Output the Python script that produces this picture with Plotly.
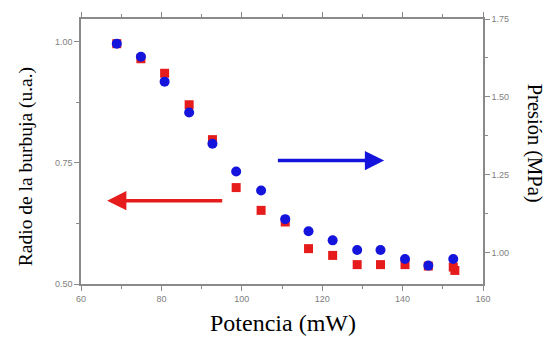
import plotly.graph_objects as go

# Data
potencia_red = [68.9, 74.9, 80.8, 86.9, 92.7, 98.6, 104.8, 110.8, 116.6, 122.6, 128.7, 134.5, 140.6, 146.4, 152.6, 153.0]
radio = [0.996, 0.965, 0.935, 0.870, 0.798, 0.699, 0.652, 0.628, 0.573, 0.559, 0.540, 0.540, 0.540, 0.537, 0.535, 0.528]
potencia_blue = [68.9, 74.9, 80.8, 86.9, 92.7, 98.6, 104.8, 110.8, 116.6, 122.6, 128.7, 134.5, 140.6, 146.4, 152.6]
presion = [1.671, 1.629, 1.549, 1.450, 1.350, 1.261, 1.200, 1.108, 1.069, 1.040, 1.009, 1.009, 0.980, 0.959, 0.980]

RED = "#e61c1c"
BLUE = "#1414dc"
AX = "#8a8a8a"

fig = go.Figure()
fig.add_trace(go.Scatter(x=potencia_red, y=radio, mode="markers",
                         marker=dict(symbol="square", size=9, color=RED),
                         yaxis="y", showlegend=False))
fig.add_trace(go.Scatter(x=potencia_blue, y=presion, mode="markers",
                         marker=dict(symbol="circle", size=10, color=BLUE),
                         yaxis="y2", showlegend=False))

tickfont = dict(family="Liberation Sans, Arial", size=9, color="#808080")
common = dict(showgrid=False, zeroline=False, showline=True, linecolor=AX, linewidth=1.5,
              ticks="outside", ticklen=5, tickcolor=AX, tickwidth=1, tickfont=tickfont)

fig.update_layout(
    width=548, height=337,
    margin=dict(l=81, r=65, t=14, b=53),
    paper_bgcolor="white", plot_bgcolor="white",
    xaxis=dict(range=[60, 160], dtick=20, tick0=60, mirror="ticks",
               minor=dict(dtick=10, ticklen=3, tickcolor=AX, ticks="outside"), **common),
    yaxis=dict(range=[0.5, 1.047], dtick=0.25, tick0=0.5, tickformat=".2f",
               minor=dict(dtick=0.125, ticklen=3, tickcolor=AX, ticks="outside"), **common),
    yaxis2=dict(range=[0.9, 1.75], dtick=0.25, tick0=1.0, tickformat=".2f", overlaying="y",
                side="right", minor=dict(dtick=0.125, ticklen=3, tickcolor=AX, ticks="outside"), **common),
)

fig.add_annotation(text="Potencia (mW)", xref="paper", yref="paper", x=(283 - 81) / 402, y=(284 - 324) / 270,
                   xanchor="center", yanchor="middle", showarrow=False,
                   font=dict(family="Liberation Serif, Times New Roman", size=24, color="black"))
fig.add_annotation(text="Radio de la burbuja (u.a.)", xref="paper", yref="paper",
                   x=(26 - 81) / 402, y=(284 - 165) / 270, textangle=-90,
                   xanchor="center", yanchor="middle", showarrow=False,
                   font=dict(family="Liberation Serif, Times New Roman", size=19.5, color="black"))
fig.add_annotation(text="Presión (MPa)", xref="paper", yref="paper",
                   x=(534 - 81) / 402, y=(284 - 140) / 270, textangle=90,
                   xanchor="center", yanchor="middle", showarrow=False,
                   font=dict(family="Liberation Serif, Times New Roman", size=20.5, color="black"))

# arrows
fig.add_annotation(x=135.4, y=1.296, ax=108.6, ay=1.296, xref="x", yref="y2", axref="x", ayref="y2",
                   showarrow=True, arrowhead=2, arrowsize=1.1, arrowwidth=3.5, arrowcolor=BLUE, text="")
fig.add_annotation(x=66.5, y=0.672, ax=95.5, ay=0.672, xref="x", yref="y", axref="x", ayref="y",
                   showarrow=True, arrowhead=2, arrowsize=1.1, arrowwidth=3.5, arrowcolor=RED, text="")

fig.write_html("out.html")
